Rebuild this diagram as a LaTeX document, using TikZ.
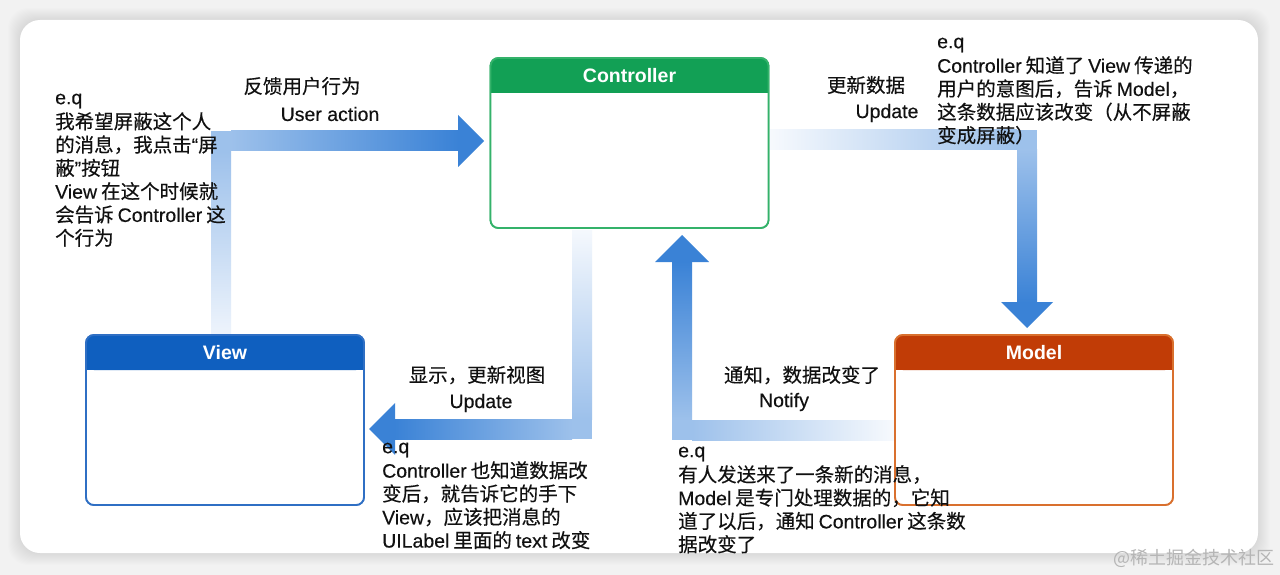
\documentclass[tikz,border=0pt]{standalone}
\usepackage{fontspec}
\setmainfont{Liberation Sans}[UprightFeatures={FakeBold=0.3}]
\newfontfamily\cjk{Noto Sans CJK SC}[FakeBold=0.3]
\newfontfamily\wmfont{Noto Sans CJK SC}
\newcommand\zhs[1]{{\cjk #1}}
\newcommand\gp{\hspace{4pt}}
\usetikzlibrary{calc}
\definecolor{bg}{HTML}{F2F2F2}
\definecolor{adark}{HTML}{3A82D6}
\definecolor{alight}{HTML}{EEF4FC}
\definecolor{ctrlhead}{HTML}{12A055}
\definecolor{ctrlline}{HTML}{34B26A}
\definecolor{viewhead}{HTML}{0F5FBF}
\definecolor{viewline}{HTML}{2F6FC4}
\definecolor{modelhead}{HTML}{C13C06}
\definecolor{modelline}{HTML}{D9702E}
\definecolor{txt}{HTML}{111111}
\definecolor{wm}{HTML}{B5B5B5}
\colorlet{amid}{adark!45!alight}
\begin{document}
\begin{tikzpicture}[x=1pt,y=-1pt,
  box/.style={rectangle, rounded corners=8pt, line width=1.8pt, fill=white, inner sep=0pt, outer sep=0pt, minimum width=278pt, minimum height=170pt},
  ttl/.style={text=white, font=\fontsize{19.5}{23}\selectfont\bfseries, inner sep=0pt},
  lbl/.style={text=txt, font=\fontsize{19.5}{23.3}\selectfont, inner sep=0pt},
  note/.style={text=txt, font=\fontsize{19.5}{23.3}\selectfont, inner sep=0pt, align=left, anchor=north west},
]
\useasboundingbox (0,0) rectangle (1280,575);
% background and card
\fill[bg] (0,0) rectangle (1280,575);
\foreach \i in {1,...,12}{\fill[black, opacity=0.006, rounded corners=20pt] (20-\i,20-\i) rectangle (1258+\i,553+\i);}
\fill[white, rounded corners=20pt] (20,20) rectangle (1258,553);

% boxes (nodes)
\node[box, draw=ctrlline] (ctrl) at (629.5,143) {};
\node[box, draw=viewline] (view) at (225,420) {};
\node[box, draw=modelline] (model) at (1034,420) {};

% arrow 1: View -> Controller (User action)
\shade[bottom color=alight, top color=amid] (211,335) rectangle (231,151);
\fill[amid] (211,131) rectangle (231,151);
\shade[left color=amid, right color=adark] (231,131) rectangle (458.5,151);
\fill[adark] (458,115) -- (484,141) -- (458,167) -- cycle;

% arrow 2: Controller -> Model (Update)
\shade[left color=alight!50!white, right color=amid] (770,130) rectangle (1017,150);
\fill[amid] (1017,130) rectangle (1037,150);
\shade[top color=amid, bottom color=adark] (1017,150) rectangle (1037,302.5);
\fill[adark] (1001,302) -- (1053,302) -- (1027,328) -- cycle;

% arrow 3: Controller -> View (Update)
\shade[top color=alight!60!white, bottom color=amid] (572,230) rectangle (592,419);
\fill[amid] (572,419) rectangle (592,439);
\shade[right color=amid, left color=adark] (394.5,419) rectangle (572,439);
\fill[adark] (395,403) -- (369,429) -- (395,455) -- cycle;

% arrow 4: Model -> Controller (Notify)
\shade[right color=alight!40!white, left color=amid] (692,420) rectangle (897,440);
\fill[amid] (672,420) rectangle (692,440);
\shade[bottom color=amid, top color=adark] (672,420) rectangle (692,261.5);
\fill[adark] (655,262) -- (709,262) -- (682,235) -- cycle;

% redraw boxes on top of arrows
\foreach \n/\h/\l in {ctrl/ctrlhead/ctrlline, view/viewhead/viewline, model/modelhead/modelline}{
  \fill[white, rounded corners=8pt] (\n.north west) rectangle (\n.south east);
  \fill[\h, rounded corners=8pt] (\n.north west) rectangle ([yshift=-35pt]\n.north east);
  \fill[\h] ([yshift=-20pt]\n.north west) rectangle ([yshift=-35pt]\n.north east);
  \draw[\l, line width=1.8pt, rounded corners=8pt] (\n.north west) rectangle (\n.south east);
}
\node[ttl] (ctrlT) at ([yshift=-17.5pt]ctrl.north) {Controller};
\node[ttl] (viewT) at ([yshift=-17.5pt]view.north) {View};
\node[ttl] (modelT) at ([yshift=-17.5pt]model.north) {Model};

% labels
\node[lbl] (l1a) at (302,86) {\zhs{反馈用户行为}};
\node[lbl] (l1b) at (330,114) {User action};
\node[lbl] (l2a) at (866,85) {\zhs{更新数据}};
\node[lbl] (l2b) at (887,113) {Update};
\node[lbl] (l3a) at (477,375) {\zhs{显示，更新视图}};
\node[lbl] (l3b) at (481,403) {Update};
\node[lbl] (l4a) at (802,375) {\zhs{通知，数据改变了}};
\node[lbl] (l4b) at (784,402) {Notify};

% notes
\node[note] (n1) at (55,87.7) {\strut e.q\\
\zhs{我希望屏蔽这个人}\\
\zhs{的消息，我点击}“\zhs{屏}\\
\zhs{蔽}”\zhs{按钮}\\
View\gp\zhs{在这个时候就}\\
\zhs{会告诉}\gp Controller\gp\zhs{这}\\
\zhs{个行为}};

\node[note] (n2) at (937,31.7) {\strut e.q\\
Controller\gp\zhs{知道了}\gp View\gp\zhs{传递的}\\
\zhs{用户的意图后，告诉}\gp Model\zhs{，}\\
\zhs{这条数据应该改变（从不屏蔽}\\
\zhs{变成屏蔽）}};

\node[note] (n3) at (382,436.7) {\strut e.q\\
Controller\gp\zhs{也知道数据改}\\
\zhs{变后，就告诉它的手下}\\
View\zhs{，应该把消息的}\\
UILabel\gp\zhs{里面的}\gp text\gp\zhs{改变}};

\node[note] (n4) at (678,440.7) {\strut e.q\\
\zhs{有人发送来了一条新的消息，}\\
Model\gp\zhs{是专门处理数据的，它知}\\
\zhs{道了以后，通知}\gp Controller\gp\zhs{这条数}\\
\zhs{据改变了}};

% watermark
\node[font=\wmfont\fontsize{18}{20}\selectfont, text=wm, inner sep=0pt] (wm) at (1194,558) {@稀土掘金技术社区};
\end{tikzpicture}
\end{document}
